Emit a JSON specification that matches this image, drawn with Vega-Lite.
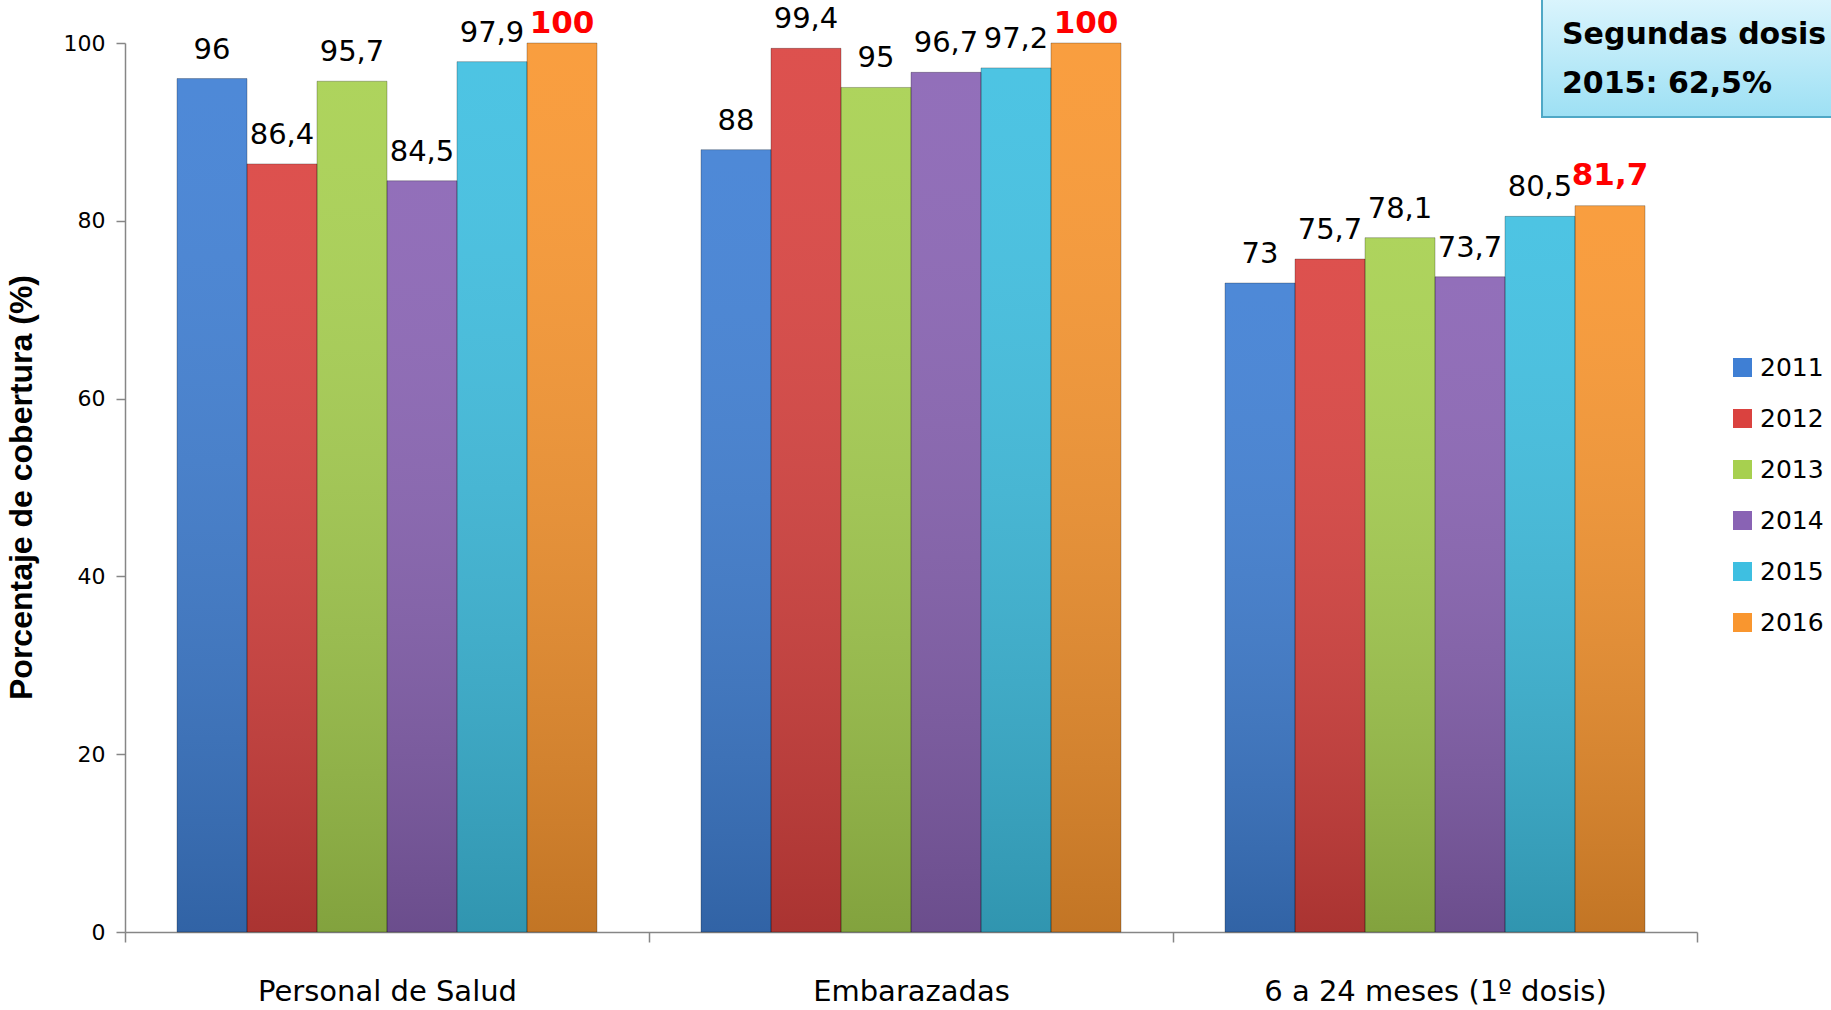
{
  "$schema": "https://vega.github.io/schema/vega-lite/v6.json",
  "width": 1572,
  "height": 889,
  "autosize": {"type": "none"},
  "padding": {"left": 125, "top": 43, "right": 134, "bottom": 78},
  "background": "white",
  "config": {
    "view": {"stroke": null},
    "locale": {"number": {"decimal": ",", "thousands": ".", "grouping": [3], "currency": ["", " €"]}},
    "legend": {
      "orient": "none", "legendX": 1605, "legendY": 312, "direction": "vertical",
      "symbolType": "square", "symbolSize": 361, "symbolStrokeWidth": 0,
      "labelFont": "DejaVu Sans", "labelFontSize": 25, "labelColor": "black",
      "rowPadding": 25, "labelOffset": 5
    }
  },
  "data": {"values": [
    {"grupo": "Personal de Salud", "anio": "2011", "valor": 96},
    {"grupo": "Personal de Salud", "anio": "2012", "valor": 86.4},
    {"grupo": "Personal de Salud", "anio": "2013", "valor": 95.7},
    {"grupo": "Personal de Salud", "anio": "2014", "valor": 84.5},
    {"grupo": "Personal de Salud", "anio": "2015", "valor": 97.9},
    {"grupo": "Personal de Salud", "anio": "2016", "valor": 100},
    {"grupo": "Embarazadas", "anio": "2011", "valor": 88},
    {"grupo": "Embarazadas", "anio": "2012", "valor": 99.4},
    {"grupo": "Embarazadas", "anio": "2013", "valor": 95},
    {"grupo": "Embarazadas", "anio": "2014", "valor": 96.7},
    {"grupo": "Embarazadas", "anio": "2015", "valor": 97.2},
    {"grupo": "Embarazadas", "anio": "2016", "valor": 100},
    {"grupo": "6 a 24 meses (1º dosis)", "anio": "2011", "valor": 73},
    {"grupo": "6 a 24 meses (1º dosis)", "anio": "2012", "valor": 75.7},
    {"grupo": "6 a 24 meses (1º dosis)", "anio": "2013", "valor": 78.1},
    {"grupo": "6 a 24 meses (1º dosis)", "anio": "2014", "valor": 73.7},
    {"grupo": "6 a 24 meses (1º dosis)", "anio": "2015", "valor": 80.5},
    {"grupo": "6 a 24 meses (1º dosis)", "anio": "2016", "valor": 81.7}
  ]},
  "resolve": {"scale": {"x": "independent"}},
  "layer": [
    {
      "encoding": {
        "x": {
          "field": "grupo", "type": "nominal",
          "sort": ["Personal de Salud", "Embarazadas", "6 a 24 meses (1º dosis)"],
          "scale": {"paddingInner": 0, "paddingOuter": 0},
          "axis": {
            "title": null, "labelAngle": 0, "labelFont": "DejaVu Sans", "labelFontSize": 29, "labelLimit": 0,
            "labelColor": "black", "labelPadding": 35, "tickBand": "extent", "tickSize": 10,
            "tickColor": "#868686", "domainColor": "#868686", "domainWidth": 1.5, "tickWidth": 1.5
          }
        },
        "xOffset": {"field": "anio", "type": "nominal", "scale": {"paddingInner": 0, "paddingOuter": 0.743}},
        "y": {
          "field": "valor", "type": "quantitative",
          "scale": {"domain": [0, 100], "nice": false},
          "axis": {
            "values": [0, 20, 40, 60, 80, 100], "grid": false,
            "title": "Porcentaje de cobertura (%)", "titleFont": "Liberation Sans", "titleFontSize": 32,
            "titleFontWeight": "bold", "titleColor": "black", "titleAngle": -90,
            "titleX": -104, "titleY": 444, "titleAlign": "center", "titleBaseline": "middle",
            "labelFont": "DejaVu Sans", "labelFontSize": 22, "labelColor": "black", "labelPadding": 11,
            "tickSize": 9, "tickColor": "#868686", "domainColor": "#868686", "domainWidth": 1.5, "tickWidth": 1.5
          }
        }
      },
      "layer": [
        {
          "mark": {"type": "bar"},
          "encoding": {
            "color": {
              "field": "anio", "type": "nominal", "title": null,
              "scale": {"range": ["#3F7FD4", "#DA423F", "#A7D04F", "#8963B4", "#3EBFE1", "#F9962F"]}
            }
          }
        },
        {
          "mark": {
            "type": "bar",
            "fill": {"gradient": "linear", "x1": 0, "y1": 0, "x2": 0, "y2": 1,
              "stops": [{"offset": 0, "color": "rgba(255,255,255,0.08)"}, {"offset": 1, "color": "rgba(0,0,0,0.22)"}]},
            "stroke": "rgba(0,0,0,0.25)", "strokeWidth": 1
          }
        },
        {
          "transform": [{"filter": "datum.anio != '2016'"}],
          "mark": {"type": "text", "font": "DejaVu Sans", "fontSize": 29, "color": "black", "baseline": "alphabetic", "dy": -20},
          "encoding": {"text": {"field": "valor", "type": "quantitative", "format": ".1~f"}}
        },
        {
          "transform": [{"filter": "datum.anio == '2016' && datum.valor < 100"}],
          "mark": {"type": "text", "font": "DejaVu Sans", "fontSize": 31, "fontWeight": "bold", "color": "#FF0000", "baseline": "alphabetic", "dy": -21},
          "encoding": {"text": {"field": "valor", "type": "quantitative", "format": ".1~f"}}
        },
        {
          "transform": [{"filter": "datum.anio == '2016' && datum.valor >= 100"}],
          "mark": {"type": "text", "font": "DejaVu Sans", "fontSize": 31, "fontWeight": "bold", "color": "#FF0000", "baseline": "alphabetic", "dy": -10},
          "encoding": {"text": {"field": "valor", "type": "quantitative", "format": ".1~f"}}
        }
      ]
    },
    {
      "data": {"values": [{"nota": "Segundas dosis"}]},
      "layer": [
        {
          "mark": {
            "type": "rect",
            "fill": {"gradient": "linear", "x1": 0, "y1": 0, "x2": 0, "y2": 1,
              "stops": [{"offset": 0, "color": "#DCF5FD"}, {"offset": 1, "color": "#9DE0F4"}]},
            "stroke": "#4FA8C6", "strokeWidth": 2
          },
          "encoding": {
            "x": {"datum": 90.14, "type": "quantitative", "scale": {"domain": [0, 100]}, "axis": null},
            "x2": {"datum": 110},
            "y": {"datum": 91.68, "type": "quantitative", "scale": {"domain": [0, 100], "nice": false}},
            "y2": {"datum": 105.4}
          }
        },
        {
          "mark": {
            "type": "text", "text": ["Segundas dosis", "2015: 62,5%"], "align": "left", "baseline": "middle",
            "font": "DejaVu Sans", "fontWeight": "bold", "fontSize": 30, "lineHeight": 49, "color": "black"
          },
          "encoding": {
            "x": {"datum": 91.41, "type": "quantitative", "scale": {"domain": [0, 100]}, "axis": null},
            "y": {"datum": 100.85, "type": "quantitative", "scale": {"domain": [0, 100], "nice": false}}
          }
        }
      ]
    }
  ]
}
